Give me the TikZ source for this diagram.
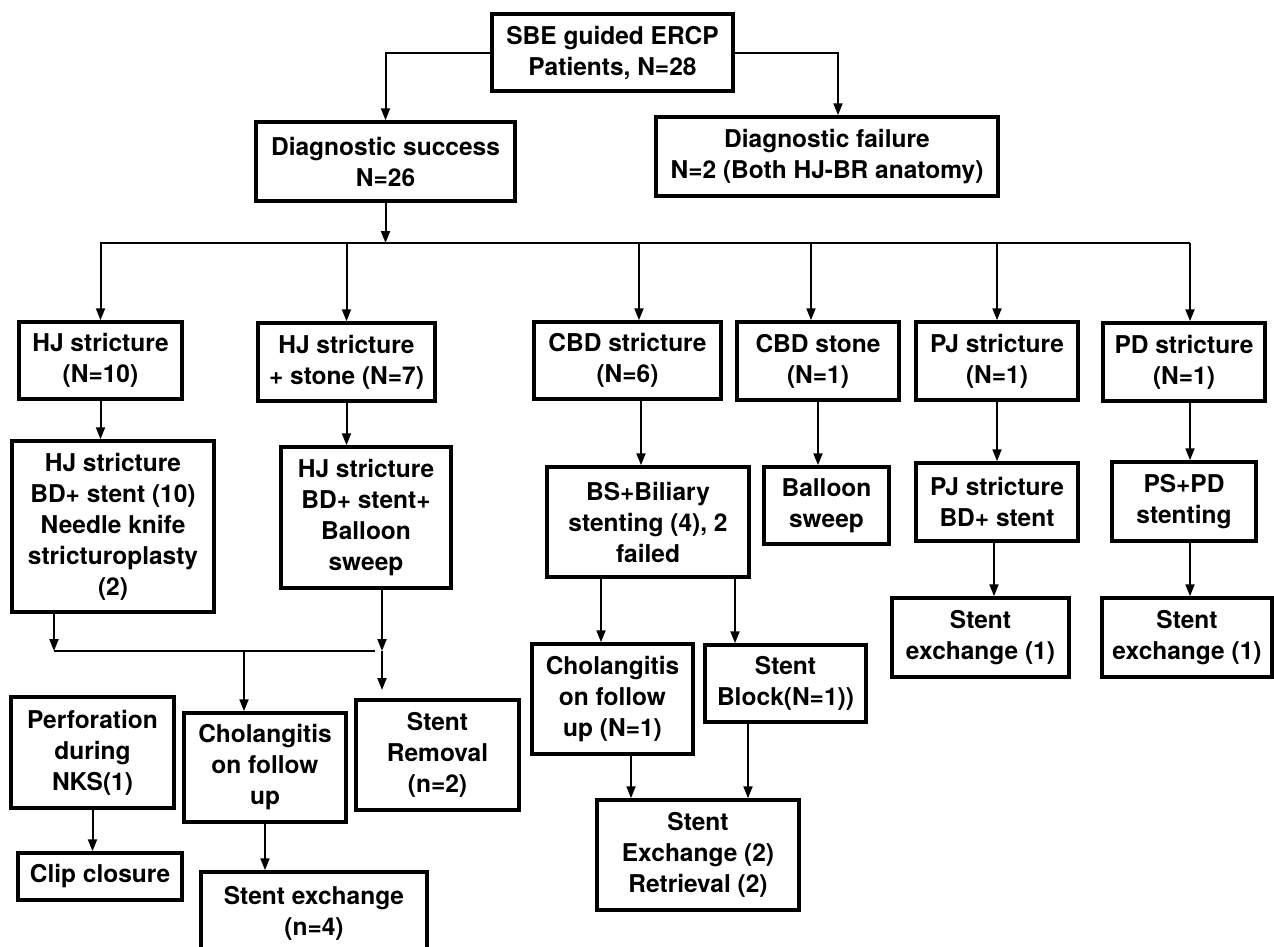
\documentclass[tikz,border=0pt]{standalone}
\usepackage{fontspec}
\setmainfont{TeX Gyre Heros}
\usetikzlibrary{arrows.meta}
\begin{document}
\begin{tikzpicture}[x=1pt,y=-1pt,
  box/.style={draw, line width=3.5pt, align=center, inner sep=0pt, font=\bfseries\fontsize{24.5}{31}\selectfont},
  arr/.style={line width=2pt, -{Triangle[length=12pt,width=9pt]}},
  ln/.style={line width=2pt}]
\fill[white] (0,0) rectangle (1274,946);
\useasboundingbox (0,0) rectangle (1274,946);
% level 0/1
\node[box, minimum width=241, minimum height=77] (top) at (612.5,52.5) {SBE guided ERCP\\Patients, N=28};
\node[box, minimum width=259, minimum height=79] (succ) at (385.5,161.5) {Diagnostic success\\N=26};
\node[box, minimum width=342, minimum height=79] (fail) at (827,156.5) {Diagnostic failure\\N=2 (Both HJ-BR anatomy)};
% level 2
\node[box, minimum width=163, minimum height=77] (hj) at (100.5,360.5) {HJ stricture\\(N=10)};
\node[box, minimum width=177, minimum height=78] (hjs) at (346.5,362) {HJ stricture\\+ stone (N=7)};
\node[box, minimum width=187, minimum height=77] (cbds) at (627.5,360.5) {CBD stricture\\(N=6)};
\node[box, minimum width=162, minimum height=78] (cbdst) at (818,361) {CBD stone\\(N=1)};
\node[box, minimum width=162, minimum height=78] (pj) at (997,361) {PJ stricture\\(N=1)};
\node[box, minimum width=162, minimum height=78] (pd) at (1184,362) {PD stricture\\(N=1)};
% level 3
\node[box, minimum width=202, minimum height=171] (hjbd) at (113,526.5) {HJ stricture\\BD+ stent (10)\\Needle knife\\stricturoplasty\\(2)};
\node[box, minimum width=170, minimum height=141] (hjsb) at (366,517.5) {HJ stricture\\BD+ stent+\\Balloon\\sweep};
\node[box, minimum width=202, minimum height=110] (bs) at (648,522) {BS+Biliary\\stenting (4), 2\\failed};
\node[box, minimum width=125, minimum height=77] (bal) at (826.5,505.5) {Balloon\\sweep};
\node[box, minimum width=162, minimum height=78] (pjbd) at (997,502) {PJ stricture\\BD+ stent};
\node[box, minimum width=144, minimum height=79] (pspd) at (1184,501.5) {PS+PD\\stenting};
% level 4
\node[box, minimum width=177, minimum height=79] (pjse) at (980.5,637.5) {Stent\\exchange (1)};
\node[box, minimum width=170, minimum height=79] (pdse) at (1187,637.5) {Stent\\exchange (1)};
\node[box, minimum width=161, minimum height=110] (chol1) at (612.5,699) {Cholangitis\\on follow\\up (N=1)};
\node[box, minimum width=161, minimum height=77] (block) at (785.5,683.5) {Stent\\Block(N=1))};
\node[box, minimum width=202, minimum height=110] (sexr) at (698,855) {Stent\\Exchange (2)\\Retrieval (2)};
\node[box, minimum width=163, minimum height=111] (perf) at (92.5,752.5) {Perforation\\during\\NKS(1)};
\node[box, minimum width=162, minimum height=109] (chol2) at (265,767.5) {Cholangitis\\on follow\\up};
\node[box, minimum width=163, minimum height=110] (srem) at (437.5,755) {Stent\\Removal\\(n=2)};
\node[box, minimum width=164, minimum height=47] (clip) at (100,876.5) {Clip closure};
\node[box, minimum width=226, minimum height=83] (sex4) at (314,913.5) {Stent exchange\\(n=4)};
% connectors top
\coordinate (fa) at (838,0);
\draw[arr] (top.west) -| (succ.north);
\draw[arr] (top.east) -| (fa |- fail.north);
\coordinate (bus) at (383,243);
\coordinate (busL) at (100,243);
\coordinate (busR) at (1190,243);
\draw[arr] (succ.south) -- (succ.south |- bus);
\draw[ln] (busL) -- (busR);
\draw[arr] (hj.north |- bus) -- (hj.north);
\draw[arr] (hjs.north |- bus) -- (hjs.north);
\coordinate (d3) at (639,243);
\draw[arr] (d3) -- (d3 |- cbds.north);
\coordinate (d4) at (811,243);
\draw[arr] (d4) -- (d4 |- cbdst.north);
\draw[arr] (pj.north |- bus) -- (pj.north);
\draw[arr] (busR) -- (busR |- pd.north);
% level 2 -> 3
\draw[arr] (hj.south) -- (hj.south |- hjbd.north);
\draw[arr] (hjs.south) -- (hjs.south |- hjsb.north);
\coordinate (c3) at (641,0);
\draw[arr] (c3 |- cbds.south) -- (c3 |- bs.north);
\draw[arr] (cbdst.south) -- (cbdst.south |- bal.north);
\draw[arr] (pj.south) -- (pj.south |- pjbd.north);
\coordinate (c6) at (1190,0);
\draw[arr] (c6 |- pd.south) -- (c6 |- pspd.north);
% level 3 -> 4
\draw[arr] (c6 |- pspd.south) -- (c6 |- pdse.north);
\coordinate (c5) at (994,0);
\draw[arr] (c5 |- pjbd.south) -- (c5 |- pjse.north);
\coordinate (e1) at (601,0);
\coordinate (e2) at (735,0);
\draw[arr] (e1 |- bs.south) -- (e1 |- chol1.north);
\draw[arr] (e2 |- bs.south) -- (e2 |- block.north);
\coordinate (f1) at (631,0);
\coordinate (f2) at (748,0);
\draw[arr] (f1 |- chol1.south) -- (f1 |- sexr.north);
\draw[arr] (f2 |- block.south) -- (f2 |- sexr.north);
% left bottom
\coordinate (jL) at (54,651);
\coordinate (jR) at (375,651);
\coordinate (jV) at (382,651);
\coordinate (jE) at (382,690);
\coordinate (jC) at (244,651);
\draw[arr] (jL |- hjbd.south) -- (jL);
\draw[ln] (jL) -- (jR);
\draw[arr] (jV |- hjsb.south) -- (jV);
\draw[arr] (jV) -- (jE);
\draw[arr] (jC) -- (jC |- chol2.north);
\draw[arr] (perf.south) -- (perf.south |- clip.north);
\draw[arr] (chol2.south) -- (chol2.south |- sex4.north);
\end{tikzpicture}
\end{document}
